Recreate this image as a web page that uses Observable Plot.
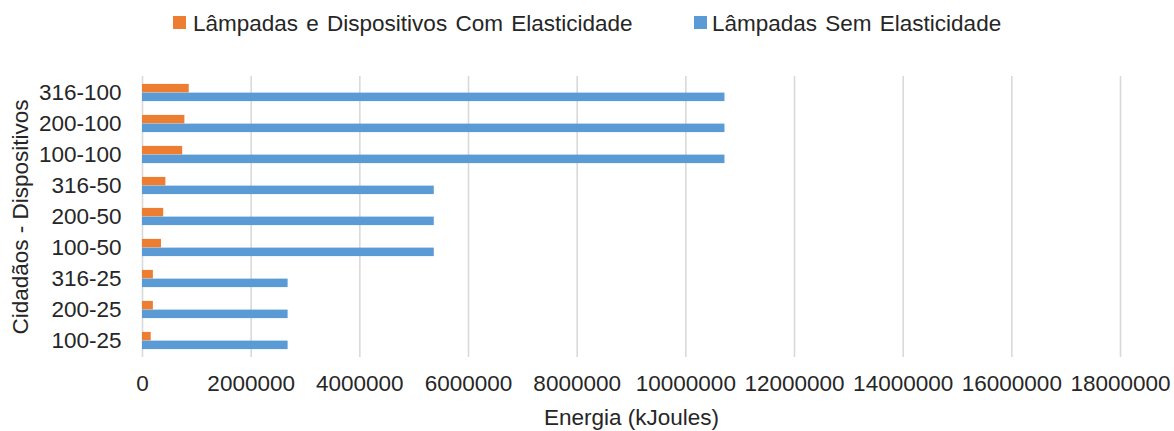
<!DOCTYPE html>
<html>
<head>
<meta charset="utf-8">
<script src="https://cdn.jsdelivr.net/npm/d3@7"></script>
<script src="https://cdn.jsdelivr.net/npm/@observablehq/plot@0.6"></script>
<style>
  html, body { margin: 0; padding: 0; background: #fff; }
  body { width: 1174px; height: 431px; overflow: hidden; font-family: "Liberation Sans", Arial, Helvetica, sans-serif; color: #262626; }
  #legend { position: relative; height: 50px; width: 1174px; }
  #legend .sw { position: absolute; width: 12.5px; height: 12.5px; top: 16px; }
  #legend .lb { position: absolute; top: 13px; font-size: 22.5px; line-height: 22.5px; white-space: nowrap; word-spacing: 2px; }
</style>
</head>
<body>
<div id="legend"></div>
<div id="chart"></div>
<script>
const categories = ["316-100", "200-100", "100-100", "316-50", "200-50", "100-50", "316-25", "200-25", "100-25"];
const comElasticidade = [860000, 780000, 740000, 430000, 390000, 350000, 200000, 200000, 160000];
const semElasticidade = [10720000, 10720000, 10720000, 5370000, 5370000, 5370000, 2680000, 2680000, 2680000];
const seriesNames = ["Lâmpadas e Dispositivos Com Elasticidade", "Lâmpadas Sem Elasticidade"];
const seriesColors = ["#ED7D31", "#5B9BD5"];
const xTicks = [0, 2000000, 4000000, 6000000, 8000000, 10000000, 12000000, 14000000, 16000000, 18000000];
const xTitle = "Energia (kJoules)";
const yTitle = "Cidadãos - Dispositivos";

const rows = categories.map((c, i) => ({cat: c, com: comElasticidade[i], sem: semElasticidade[i]}));

// Legend (HTML, above the SVG)
const legend = document.getElementById("legend");
const legendPos = [{sw: 173, lb: 193}, {sw: 694, lb: 712}];
seriesNames.forEach((name, i) => {
  const sw = document.createElement("div");
  sw.className = "sw";
  sw.style.left = legendPos[i].sw + "px";
  sw.style.background = seriesColors[i];
  legend.appendChild(sw);
  const lb = document.createElement("div");
  lb.className = "lb";
  lb.style.left = legendPos[i].lb + "px";
  lb.textContent = name;
  legend.appendChild(lb);
});

const chart = Plot.plot({
  width: 1174,
  height: 381,
  marginTop: 26,
  marginBottom: 74,
  marginLeft: 142,
  marginRight: 54,
  style: {fontFamily: "Liberation Sans, Arial, Helvetica, sans-serif", fontSize: "22.5px", color: "#262626", background: "#fff"},
  x: {domain: [0, 18000000], axis: null},
  y: {domain: categories, padding: 0, axis: null},
  marks: [
    Plot.gridX(xTicks, {stroke: "#d9d9d9", strokeOpacity: 1, strokeWidth: 1.6}),
    Plot.barX(rows, {x: "com", y: "cat", fill: seriesColors[0], insetTop: 6.9, insetBottom: 15.6}),
    Plot.barX(rows, {x: "sem", y: "cat", fill: seriesColors[1], insetTop: 15.6, insetBottom: 6.9}),
    Plot.axisX(xTicks, {tickSize: 0, tickPadding: 18, tickFormat: d => String(d), label: null, fill: "#262626"}),
    Plot.axisY({tickSize: 0, tickPadding: 21, label: null, fill: "#262626"}),
    Plot.text([xTitle], {frameAnchor: "bottom", dy: 60, textAnchor: "middle", lineAnchor: "middle", fill: "#262626"}),
    Plot.text([yTitle], {frameAnchor: "left", dx: -122, rotate: -90, textAnchor: "middle", lineAnchor: "middle", fill: "#262626"})
  ]
});
document.getElementById("chart").appendChild(chart);
</script>
</body>
</html>
